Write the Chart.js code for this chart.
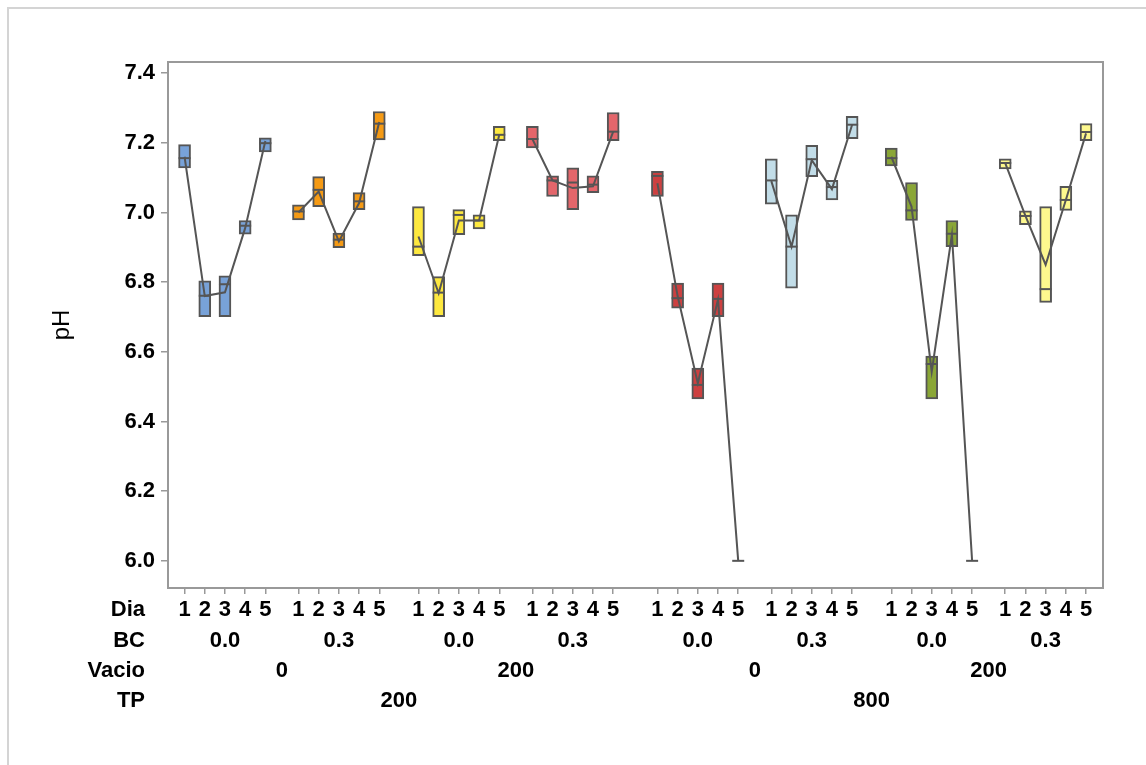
<!DOCTYPE html>
<html lang="en">
<head>
<meta charset="UTF-8">
<title>pH por Dia, BC, Vacio y TP</title>
<script src="https://cdn.jsdelivr.net/npm/chart.js"></script>
<style>
  body { margin: 0; background: #fff; }
</style>
</head>
<body>
<canvas id="myChart" width="1146" height="765"></canvas>
<script>
// categories
const dias = [1, 2, 3, 4, 5];
const bcLabels = ['0.0', '0.3', '0.0', '0.3', '0.0', '0.3', '0.0', '0.3'];
const vacioLabels = ['0', '200', '0', '200'];
const tpLabels = ['200', '800'];
const yTicks = [6.0, 6.2, 6.4, 6.6, 6.8, 7.0, 7.2, 7.4];

// box values per group (TP/Vacio/BC), one entry per Dia
const q1 = [
  [7.128, 6.701, 6.701, 6.938, 7.174],
  [6.979, 7.017, 6.899, 7.008, 7.208],
  [6.876, 6.701, 6.936, 6.953, 7.206],
  [7.185, 7.046, 7.008, 7.057, 7.206],
  [7.046, 6.725, 6.465, 6.701, 6.0],
  [7.024, 6.783, 7.103, 7.036, 7.212],
  [7.134, 6.977, 6.465, 6.902, 6.0],
  [7.125, 6.965, 6.742, 7.006, 7.206]
];
const q3 = [
  [7.195, 6.804, 6.818, 6.977, 7.214],
  [7.022, 7.103, 6.941, 7.057, 7.290],
  [7.017, 6.816, 7.008, 6.993, 7.247],
  [7.247, 7.105, 7.128, 7.105, 7.287],
  [7.118, 6.797, 6.553, 6.797, 6.0],
  [7.154, 6.993, 7.193, 7.092, 7.276],
  [7.185, 7.086, 6.588, 6.977, 6.0],
  [7.154, 7.005, 7.017, 7.075, 7.255]
];
const medians = [
  [7.156, 6.761, 6.794, 6.962, 7.199],
  [7.003, 7.065, 6.922, 7.032, 7.255],
  [6.902, 6.770, 6.993, 6.977, 7.223],
  [7.211, 7.092, 7.086, 7.080, 7.232],
  [7.105, 6.754, 6.505, 6.752, 6.0],
  [7.092, 6.902, 7.153, 7.073, 7.252],
  [7.156, 7.006, 6.565, 6.939, 6.0],
  [7.142, 6.990, 6.780, 7.036, 7.231]
];
const means = [
  [7.160, 6.760, 6.771, 6.955, 7.205],
  [7.000, 7.060, 6.917, 7.027, 7.260],
  [6.931, 6.768, 6.977, 6.977, 7.223],
  [7.211, 7.092, 7.070, 7.075, 7.232],
  [7.084, 6.760, 6.510, 6.750, 6.0],
  [7.090, 6.902, 7.150, 7.067, 7.252],
  [7.160, 7.017, 6.543, 6.936, 6.0],
  [7.142, 6.990, 6.850, 7.036, 7.227]
];
const colors = ['#78a2d8', '#f59a14', '#fde83f', '#e4666b', '#cd4040', '#c2dde8', '#8aa636', '#fdf88e'];

// spacing between groups (in box widths)
const gapBC = 1.64, gapVacio = 1.94, gapTP = 2.19;
const starts = [];
let s = 0;
for (let g = 0; g < 8; g++) {
  if (g > 0) s += 4 + (g % 4 == 0 ? gapTP : g % 2 == 0 ? gapVacio : gapBC);
  starts.push(s);
}
const xs = [];
starts.forEach(st => dias.forEach((d, i) => xs.push(st + i)));

const boxData = [], boxColors = [], medData = [];
for (let g = 0; g < 8; g++) {
  for (let i = 0; i < 5; i++) {
    boxData.push({ x: starts[g] + i, y: [q1[g][i], q3[g][i]] });
    boxColors.push(colors[g]);
    medData.push({ x: starts[g] + i, y: medians[g][i] });
  }
}

const datasets = [{
  type: 'bar',
  data: boxData,
  backgroundColor: boxColors,
  borderColor: '#555',
  borderWidth: 2,
  borderSkipped: false,
  barThickness: 12,
  order: 3
}, {
  type: 'scatter',
  data: medData,
  pointStyle: 'line',
  pointRadius: 6,
  pointBorderWidth: 2,
  borderColor: '#555',
  order: 2
}];
for (let g = 0; g < 8; g++) {
  datasets.push({
    type: 'line',
    data: means[g].map((m, i) => ({ x: starts[g] + i, y: m })),
    borderColor: '#555',
    borderWidth: 2,
    pointRadius: 0,
    tension: 0,
    order: 1
  });
}

const font = '"Liberation Sans", Arial, sans-serif';
const rowY = [610, 641, 671, 701];

const extras = {
  id: 'extras',
  beforeDraw(chart) {
    const ctx = chart.ctx;
    ctx.save();
    ctx.fillStyle = '#fff';
    ctx.fillRect(0, 0, chart.width, chart.height);
    ctx.strokeStyle = '#d4d4d4';
    ctx.lineWidth = 2;
    ctx.strokeRect(8, 8, 1160, 800);
    ctx.restore();
  },
  afterDraw(chart) {
    const { ctx, chartArea: a } = chart;
    const x = chart.scales.x;
    ctx.save();
    ctx.strokeStyle = '#999';
    ctx.lineWidth = 2;
    ctx.strokeRect(a.left, a.top, a.right - a.left, a.bottom - a.top);
    ctx.fillStyle = '#000';
    ctx.font = 'bold 22px ' + font;
    ctx.textBaseline = 'middle';
    ctx.textAlign = 'right';
    ['Dia', 'BC', 'Vacio', 'TP'].forEach((t, i) => ctx.fillText(t, 145, rowY[i]));
    ctx.textAlign = 'center';
    bcLabels.forEach((t, g) => ctx.fillText(t, x.getPixelForValue(starts[g] + 2), rowY[1]));
    vacioLabels.forEach((t, k) => {
      const c = (starts[2 * k] + starts[2 * k + 1] + 4) / 2;
      ctx.fillText(t, x.getPixelForValue(c), rowY[2]);
    });
    tpLabels.forEach((t, k) => {
      const c = (starts[4 * k] + starts[4 * k + 3] + 4) / 2;
      ctx.fillText(t, x.getPixelForValue(c), rowY[3]);
    });
    ctx.restore();
  }
};

new Chart(document.getElementById('myChart'), {
  data: { datasets: datasets },
  options: {
    responsive: false,
    animation: false,
    layout: { padding: { left: 0, top: 62, right: 43, bottom: 0 } },
    plugins: { legend: { display: false }, tooltip: { enabled: false } },
    scales: {
      x: {
        type: 'linear',
        offset: false,
        min: -0.82,
        max: 45.47,
        afterBuildTicks: sc => { sc.ticks = xs.map(v => ({ value: v })); },
        afterFit: sc => { sc.height = 177; },
        ticks: {
          autoSkip: false,
          maxRotation: 0,
          padding: 3,
          color: '#000',
          font: { family: font, size: 22, weight: 'bold' },
          callback: (v, i) => dias[i % 5]
        },
        grid: { offset: false, drawOnChartArea: false, tickLength: 6, color: '#999', lineWidth: 1.5 },
        border: { display: false }
      },
      y: {
        min: 5.922,
        max: 7.432,
        afterBuildTicks: sc => { sc.ticks = yTicks.map(v => ({ value: v })); },
        afterFit: sc => { sc.width = 168; },
        ticks: {
          padding: 6,
          color: '#000',
          font: { family: font, size: 22, weight: 'bold' },
          callback: v => v.toFixed(1)
        },
        grid: { drawOnChartArea: false, tickLength: 7, color: '#999', lineWidth: 1.5 },
        border: { display: false },
        title: {
          display: true,
          text: 'pH',
          color: '#000',
          font: { family: font, size: 24 },
          padding: { top: 48 }
        }
      }
    }
  },
  plugins: [extras]
});
</script>
</body>
</html>
